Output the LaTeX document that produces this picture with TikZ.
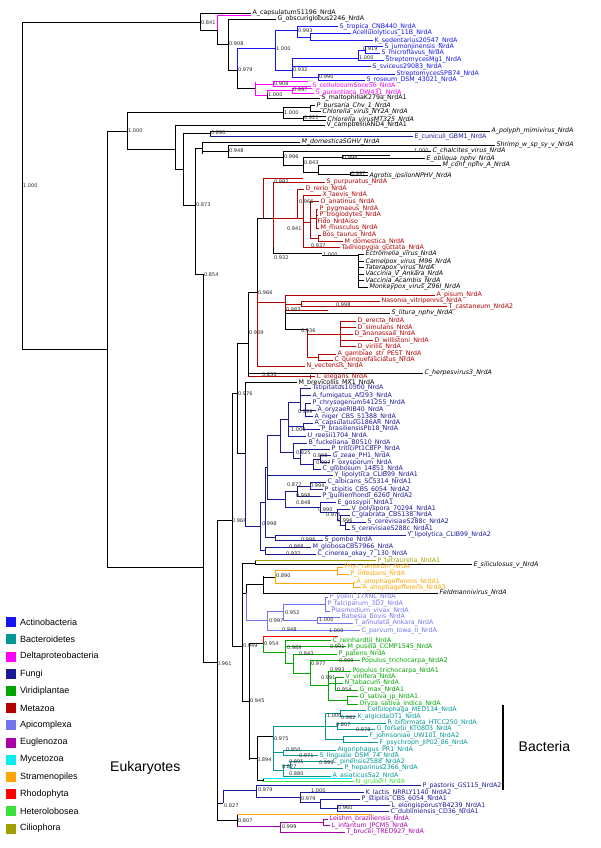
\documentclass[tikz,border=0pt]{standalone}
\usepackage{fontspec}
\setmainfont{DejaVu Sans}
\newfontfamily\legfont{Liberation Sans}
\usetikzlibrary{positioning}
\definecolor{cActino}{RGB}{20,20,240}
\definecolor{cBactero}{RGB}{0,150,150}
\definecolor{cDelta}{RGB}{255,0,255}
\definecolor{cFungi}{RGB}{25,25,150}
\definecolor{cPlant}{RGB}{0,165,0}
\definecolor{cMeta}{RGB}{180,0,0}
\definecolor{cApi}{RGB}{115,115,240}
\definecolor{cEugl}{RGB}{170,0,170}
\definecolor{cMyce}{RGB}{0,240,240}
\definecolor{cStram}{RGB}{255,165,0}
\definecolor{cRhodo}{RGB}{255,0,0}
\definecolor{cHetero}{RGB}{60,225,60}
\definecolor{cCilio}{RGB}{160,160,0}
\tikzset{
  lf/.style={right,inner sep=1.2pt,font=\fontsize{6.3}{7}\selectfont},
  lfi/.style={right,inner sep=1.2pt,font=\fontsize{6.3}{7}\selectfont\itshape},
  sv/.style={right,inner sep=0.8pt,font=\fontsize{5}{6}\selectfont,text=black!85},
  legbox/.style={minimum size=10pt,inner sep=0pt},
  leglab/.style={right,font=\legfont\fontsize{9}{10}\selectfont},
}
\begin{document}
\catcode`\_=12
\begin{tikzpicture}[x=1pt,y=-1pt,line width=0.8pt]
\useasboundingbox (0,0) rectangle (600,848);

% ---- skeleton, black
\foreach \x/\a/\b in {22/22.7/349,107/131/567,127/112.7/149,175/125/169,183/133/205,
  210/131/136.7,195/148/274,202/142/154,228/145/157,283/151/165.5,303/157/172,
  342/155/158.5,318/165/174,350/172.5/175.5,200/13.3/30,217/30/44,228/19.3/70,
  237/70/88.3,267/94.5/98.3,283/107.5/118,310/105.5/111.5,303/116.5/120,
  203/274/662,217/520/820.7,232/393/646,237/343/453,248/292/376.7,257/218/292,
  273/247/253.3,245/382.7/453,358/254.3/287.3,285/310/329,242/563/701,255/560.5/564.5,
  246/584/593,263/576/593.3,249/643/760,257/736.7/780,237/814.3/826.7}
  \draw (\x,\a) -- (\x,\b);
\foreach \a/\b/\y in {22/200/22.7,22/107/349,107/127/131,127/283/112.7,127/175/149,
  175/183/169,183/210/133,183/195/205,195/202/148,202/228/151,228/283/157,283/303/165.5,
  303/342/157,303/318/172,318/350/174,200/217/30,217/228/44,228/237/70,237/255/88.3,
  283/310/107.5,283/303/118,195/203/274,107/203/567,203/217/662,217/232/520,217/223/803,
  232/237/393,232/242/646,237/248/343,237/245/453,248/257/292,257/273/218,273/322/253.3,
  322/358/255,285/307/329,242/255/563,242/246/593,246/263/584,263/275/577,242/249/701,
  249/263/643,249/257/758,257/273/736.7,257/263/780,217/237/820.7}
  \draw (\a,\y) -- (\b,\y);

% ---- leaves, black
\foreach \a/\b/\y/\t in {200/251/13.3/A_capsulatum51196_NrdA,228/276/19.3/G_obscuriglobus2246_NrdA,
  267/320/98.3/S_maltophiliaK279a_NrdA1,175/325/125/V_campbelliiAND4_NrdA1,
  245/297/382.7/M_brevicollis_MX1_NrdA}
  \draw (\a,\y) -- (\b,\y) node[lf] {\t};
\foreach \a/\b/\y/\t in {202/300/142/M_domesticaSGHV_NrdA,310/315/105.5/P_bursaria_Chv_1_NrdA,
  310/321/111.5/Chlorella_virus_NY2A_NrdA,303/326/116.5/{},303/326/120/Chlorella_virusMT325_NrdA,
  210/490/131/A_polyph_mimivirus_NrdA,228/495/145/Shrimp_w_sp_sy_v_NrdA,
  283/431/151/C_chalcites_virus_NrdA,342/390/155/{},342/425/158.5/E_obliqua_nphv_NrdA,
  318/441/165/M_conf_nphv_A_NrdA,350/368/172.5/{},350/368/175.5/Agrotis_ipsilonNPHV_NrdA,
  358/364/254.3/Ectromelia_virus_NrdA,358/364/261.7/Camelpox_virus_M96_NrdA,
  358/364/267.7/Taterapox_virus_NrdA,358/364/274.3/Vaccinia_V_Ankara_NrdA,
  358/364/280.7/Vaccinia_Acambis_NrdA,358/368/287.3/Monkeypox_virus_Z96I_NrdA,
  285/390/313.3/S_litura_nphv_NrdA,248/423/373.3/C_herpesvirus3_NrdA,
  255/472/564.5/E_siliculosus_v_NrdA,263/438/593.3/Feldmannivirus_NrdA}
  \draw (\a,\y) -- (\b,\y) node[lfi] {\t};

% ---- Actinobacteria
\begin{scope}[cActino]
\foreach \x/\a/\b in {237/48.3/70,275/30/70,297/26.7/37,310/33.3/40.7,292/58/77,358/50/60,
  365/46.7/53.3,318/74/80}
  \draw (\x,\a) -- (\x,\b);
\foreach \a/\b/\y in {237/275/48.3,275/297/30,297/310/37,275/292/70,292/358/58,358/365/50,292/318/77}
  \draw (\a,\y) -- (\b,\y);
\foreach \a/\b/\y/\t in {297/338/26.7/S_tropica_CNB440_NrdA,310/351/33.3/Acellulolyticus_11B_NrdA,
  310/373/40.7/K_sedentarius20547_NrdA,365/383/46.7/S_jumonjinensis_NrdA,
  365/380/53.3/S_microflavus_NrdA,358/384/60/StreptomycesMg1_NrdA,
  292/371/66.7/S_sviceus29083_NrdA,318/395/74/StreptomycesSPB74_NrdA,
  318/365/80/S_roseum_DSM_43021_NrdA}
  \draw (\a,\y) -- (\b,\y) node[lf] {\t};
\end{scope}

% ---- Deltaproteobacteria
\begin{scope}[cDelta]
\foreach \x/\a/\b in {217/15.7/30,255/82/95,273/81.7/86,267/90.7/94.5,292/88.7/93.3}
  \draw (\x,\a) -- (\x,\b);
\foreach \a/\b/\y in {255/273/84,255/267/95,267/292/90.7}
  \draw (\a,\y) -- (\b,\y);
\foreach \a/\b/\y/\t in {217/251/15.7/{},273/308/81.7/{},273/311/86/S_cellulosumSoce56_NrdA,
  292/312/88.7/{},292/314/93.3/S_aurantiaca_DW431_NrdA}
  \draw (\a,\y) -- (\b,\y) node[lf] {\t};
\end{scope}

% ---- Metazoa
\begin{scope}[cMeta]
\foreach \x/\a/\b in {263/178.3/218,273/182.3/247,297/189/218,303/195/247.7,310/201.7/238.3,
  316/209/228.3,318/235/241.7,257/292/366,285/295/310,301/301/306.7,307/329/357,
  340/321/346.7,318/354/360,310/375/378.5}
  \draw (\x,\a) -- (\x,\b);
\foreach \a/\b/\y in {273/297/218,297/303/218,303/310/222,310/316/218.7,310/318/238.3,
  257/285/302,285/301/304,307/340/334,307/318/357}
  \draw (\a,\y) -- (\b,\y);
\foreach \a/\b/\y/\t in {263/303/178.3/{},273/325/182.3/S_purpuratus_NrdA,297/304/189/D_rerio_NrdA,
  303/321/195/X_laevis_NrdA,310/319/201.7/O_anatinus_NrdA,316/318/209/P_pygmaeus_NrdA,
  316/318/215/P_troglodytes_NrdA,316/316/221.7/Fido_NrdAiso,316/319/228.3/M_musculus_NrdA,
  318/321/235/Bos_taurus_NrdA,318/343/241.7/M_domestica_NrdA,303/340/247.7/Taeniopygia_guttata_NrdA,
  285/435/295/A_pisum_NrdA,301/380/301/Nasonia_vitripennis_NrdA,301/447/306.7/T_castaneum_NrdA2,
  285/328/310/{},340/356/321/D_erecta_NrdA,340/356/327.7/D_simulans_NrdA,340/353/334/D_ananassae_NrdA,
  340/373/340.7/D_willistoni_NrdA,340/356/346.7/D_virilis_NrdA,318/336/354/A_gambiae_str_PEST_NrdA,
  318/333/360/C_quinquefasciatus_NrdA,257/305/366/N_vectensis_NrdA,248/310/376.7/{},
  310/315/376.7/C_elegans_NrdA}
  \draw (\a,\y) -- (\b,\y) node[lf] {\t};
\end{scope}

% ---- Fungi
\begin{scope}[cFungi]
\foreach \x/\a/\b in {245/453/526,260/502/550,265/467/537.5,275/535/540,265/547.3/554,
  267/435.5/499,280/419/452,288/402/436,300/388.3/410,305/403.3/416.7,303/423.3/429.3,
  293/443.3/458,300/449.3/464,313/459.2/469,320/455.7/462.7,285/491/507,297/486/496,
  310/482.3/489.5,320/502.7/512,337/509.3/520,340/515/525.7,345/522.3/529,
  223/790/803,256/785.7/797.3,300/792.7/802,320/799/808.7,337/805.7/811.7}
  \draw (\x,\a) -- (\x,\b);
\foreach \a/\b/\y in {245/260/526,260/265/502,260/265/550,265/267/467,265/275/537.5,
  267/280/435.5,267/285/499,280/288/419,280/293/452,288/300/402,288/303/426.3,300/305/410,
  293/300/458,300/313/464,313/320/459.2,285/297/491,297/310/486,285/320/507,320/337/512,
  337/340/520,340/345/525.7,223/256/790,256/300/797.3,300/320/802,320/337/808.7}
  \draw (\a,\y) -- (\b,\y);
\foreach \a/\b/\y/\t in {210/413/136.7/E_cuniculi_GBM1_NrdA,300/311/388.3/Tstipitatus10500_NrdA,
  300/311/395.7/A_fumigatus_Af293_NrdA,305/311/403.3/P_chrysogenum541255_NrdA,
  305/316/410/A_oryzaeRIB40_NrdA,305/313/416.7/A_niger_CBS_51388_NrdA,
  303/313/423.3/A_capsulatusG186AR_NrdA,303/320/429.3/P_brasiliensisPb18_NrdA,
  288/306/436/U_reesii1704_NrdA,293/307/443.3/B_fuckeliana_B0510_NrdA,
  300/330/449.3/P_triticiPt1CBFP_NrdA,320/331/455.7/G_zeae_PH1_NrdA,320/330/462.7/F_oxysporum_NrdA,
  313/321/469/C_globosum_14851_NrdA,267/333/475/Y_lipolytica_CLIB99_NrdA1,
  310/326/482.3/C_albicans_SC5314_NrdA1,310/323/489.5/P_stipitis_CBS_6054_NrdA2,
  297/321/496/P_guilliermondi_6260_NrdA2,320/336/502.7/E_gossypii_NrdA1,
  337/350/509.3/V_polyspora_70294_NrdA1,340/350/515/C_glabrata_CBS138_NrdA,
  345/366/522.3/S_cerevisiaeS288c_NrdA2,345/350/529/S_cerevisiaeS288c_NrdA1,
  275/406/535/Y_lipolytica_CLIB99_NrdA2,275/323/540/S_pombe_NrdA,
  265/311/547.3/M_globosaCBS7966_NrdA,265/316/554/C_cinerea_okay_7_130_NrdA,
  256/421/785.7/P_pastoris_GS115_NrdA2,300/364/792.7/K_lactis_NRRLY1140_NrdA2,
  320/360/799/P_stipitis_CBS_6054_NrdA1,337/390/805.7/L_elongisporusYB4239_NrdA1,
  337/389/811.7/C_dubliniensis_CD36_NrdA1}
  \draw (\a,\y) -- (\b,\y) node[lf] {\t};
\end{scope}

% ---- Ciliophora, Stramenopiles, Rhodophyta
\draw[cCilio] (255,560.5) -- (376,560.5) node[lf] {P_tetraurelia_NrdA1};
\begin{scope}[cStram]
\foreach \x/\a/\b in {275/570.7/583.3,337/567.3/574,353/582.3/587.7}
  \draw (\x,\a) -- (\x,\b);
\foreach \a/\b/\y in {275/337/570.7,275/353/583.3}
  \draw (\a,\y) -- (\b,\y);
\foreach \a/\b/\y/\t in {337/343/567.3/Phyt_ramorum_NrdA,337/349/574/P_infestans_NrdA,
  353/355/582.3/A_anophagefferens_NrdA1,353/361/587.7/A_anophagefferens_NrdA3,237/372/814.3/{}}
  \draw (\a,\y) -- (\b,\y) node[lf] {\t};
\end{scope}
\draw[cRhodo] (263,636.7) -- (338,636.7) (263,636.7) -- (263,643);

% ---- Apicomplexa
\begin{scope}[cApi]
\foreach \x/\a/\b in {246/593/620,267/611.7/630.5,283/604/620,325/597.3/611,317/617.3/623.3}
  \draw (\x,\a) -- (\x,\b);
\foreach \a/\b/\y in {246/267/620,267/283/611.7,283/325/604,283/317/620}
  \draw (\a,\y) -- (\b,\y);
\foreach \a/\b/\y/\t in {325/328/597.3/P_yoelii_17XNL_NrdA,325/326/604.3/P_falciparum_3D7_NrdA,
  325/330/611/Plasmodium_vivax_NrdA,317/340/617.3/Babesia_bovis_NrdA,
  317/353/623.3/T_annulata_Ankara_NrdA,267/360/630.5/C_parvum_Iowa_II_NrdA}
  \draw (\a,\y) -- (\b,\y) node[lf] {\t};
\end{scope}

% ---- Viridiplantae
\begin{scope}[cPlant]
\foreach \x/\a/\b in {263/643/652,285/640.7/663.5,293/654/673,310/660.7/685.5,328/671/700,
  335/677.3/690,347/696.7/704}
  \draw (\x,\a) -- (\x,\b);
\foreach \a/\b/\y in {263/285/652,285/293/663.5,293/310/673,310/328/685.5,328/335/683.6,328/347/700}
  \draw (\a,\y) -- (\b,\y);
\foreach \a/\b/\y/\t in {285/331/640.7/C_reinhardtii_NrdA,285/346/646.7/M_pusilla_CCMP1545_NrdA,
  293/337/654/P_patens_NrdA,310/360/660.7/Populus_trichocarpa_NrdA2,
  328/351/671/Populus_trichocarpa_NrdA1,335/344/677.3/V_vinifera_NrdA,
  335/343/683.3/N_tabacum_NrdA,335/358/690/G_max_NrdA1,347/358/696.7/O_sativa_jp_NrdA1,
  347/358/704/Oryza_sativa_indica_NrdA}
  \draw (\a,\y) -- (\b,\y) node[lf] {\t};
\end{scope}

% ---- Bacteroidetes
\begin{scope}[cBactero]
\foreach \x/\a/\b in {273/726/770.5,325/713.3/739.3,340/710/716.7,337/723.3/729.3,343/736/742.7,
  283/750/755.7,283/765/776,290/761.7/768.3}
  \draw (\x,\a) -- (\x,\b);
\foreach \a/\b/\y in {273/325/726,325/340/713.3,325/337/726.3,325/343/739.3,273/283/752.8,
  273/283/770.5,283/290/765}
  \draw (\a,\y) -- (\b,\y);
\foreach \a/\b/\y/\t in {340/366/710/Cellulophaga_MED134_NrdA,340/356/716.7/K_algicidaOT1_NrdA,
  337/386/723.3/R_biformata_HTCC250_NrdA,337/375/729.3/G_forsetii_KT0803_NrdA,
  343/368/736/F_johnsoniae_UW101_NrdA2,343/378/742.7/F_psychroph_JIP02_86_NrdA,
  283/336/750/Algoriphagus_PR1_NrdA,283/318/755.7/S_linguale_DSM_74_NrdA,
  290/331/761.7/C_pinensis2588_NrdA2,290/343/768.3/P_heparinus2366_NrdA,
  283/331/776/A_asiaticus5a2_NrdA}
  \draw (\a,\y) -- (\b,\y) node[lf] {\t};
\end{scope}

% ---- Mycetozoa, Heterolobosea, Euglenozoa
\draw (263,778.3) -- (263,781.7);
\draw[cMyce] (263,778.3) -- (352,778.3);
\draw[cHetero] (263,781.7) -- (354,781.7) node[lf] {N_gruberi_NrdA};
\begin{scope}[cEugl]
\draw (237,826.7) -- (280,826.7) (280,822.5) -- (280,832.3) (280,822.5) -- (323,822.5)
  (323,819.3) -- (323,825.7);
\foreach \a/\b/\y/\t in {323/328/819.3/Leishm_braziliensis_NrdA,323/330/825.7/L_infantum_JPCM5_NrdA,
  280/345/832.3/T_brucei_TREU927_NrdA}
  \draw (\a,\y) -- (\b,\y) node[lf] {\t};
\end{scope}

% ---- support values
\foreach \x/\y/\s in {22/186/1.000,200/22.7/0.841,228/44/0.908,237/70/0.979,275/48.7/1.000,
  297/31/0.993,292/70/0.932,358/57.3/1.000,362/49/0.919,318/77/0.990,273/84/0.908,
  267/94.3/1.000,292/90/0.997,283/112.7/1.000,303/118/0.921,127/131/1.000,210/133/0.890,
  195/205/0.873,228/151/0.948,283/157/0.996,413/151/1.000,303/163/0.843,342/158/0.998,
  350/174/0.997,273/182/0.992,298/201.7/0.966,286/228.3/0.941,310/246/0.937,
  322/255/1.000,273/257.7/0.932,203/274.3/0.854,257/292.3/0.966,335/305/0.998,
  285/310/0.983,300/330.7/0.936,248/333/0.939,261/375/0.853,237/393.3/0.976,
  297/411.7/0.999,290/430/1.000,295/452.3/0.825,312/456/0.998,315/462.7/0.907,
  286/485/0.877,309/486/0.994,295/496/0.998,295/502.7/0.848,317/509.3/0.990,
  325/515/0.975,337/521/0.996,231/520.7/0.968,261/523.3/0.998,300/540/0.996,
  288/546.7/0.988,285/553.3/0.932,275/575.7/0.890,284/612.3/0.952,268/621/0.997,
  318/620/1.000,281/630/0.948,328/631/1.000,263/643.3/0.954,242/646/0.949,
  286/647.3/0.989,329/646.7/0.991,298/654/0.843,310/663.3/0.977,338/661/0.999,
  329/669.3/0.993,320/677.3/0.991,336/690/0.954,216/663.3/0.961,249/701/0.945,
  326/716/1.000,340/718/0.982,335/725/0.807,355/729.3/0.878,273/738.3/0.975,
  285/749.3/0.950,298/755.7/0.971,256/760/0.894,288/761.7/0.895,318/763/0.999,
  281/766.7/0.877,288/774/0.880,257/790/0.979,310/790.7/1.000,300/798.3/0.979,
  337/807.3/0.960,223/806/0.827,237/820.7/0.807,281/826.7/0.999}
  \node[sv] at (\x,\y) {\s};

% ---- legend
\foreach \c/\t [count=\i] in {cActino/Actinobacteria,cBactero/Bacteroidetes,
  cDelta/Deltaproteobacteria,cFungi/Fungi,cPlant/Viridiplantae,cMeta/Metazoa,
  cApi/Apicomplexa,cEugl/Euglenozoa,cMyce/Mycetozoa,cStram/Stramenopiles,
  cRhodo/Rhodophyta,cHetero/Heterolobosea,cCilio/Ciliophora}
  \node[legbox,fill=\c] (lg\i) at (11,605+17.2*\i) {};
\foreach \t [count=\i] in {Actinobacteria,Bacteroidetes,Deltaproteobacteria,Fungi,
  Viridiplantae,Metazoa,Apicomplexa,Euglenozoa,Mycetozoa,Stramenopiles,Rhodophyta,
  Heterolobosea,Ciliophora}
  \node[leglab] at (lg\i.east) {\t};
\node[left,font=\legfont\fontsize{14}{16}\selectfont] (euk) at (184,768) {Eukaryotes};
\node[right,font=\legfont\fontsize{14}{16}\selectfont] (bac) at (515,746) {Bacteria};
\draw[line width=1.5pt] (503,705) -- (503,790);
\end{tikzpicture}
\end{document}
